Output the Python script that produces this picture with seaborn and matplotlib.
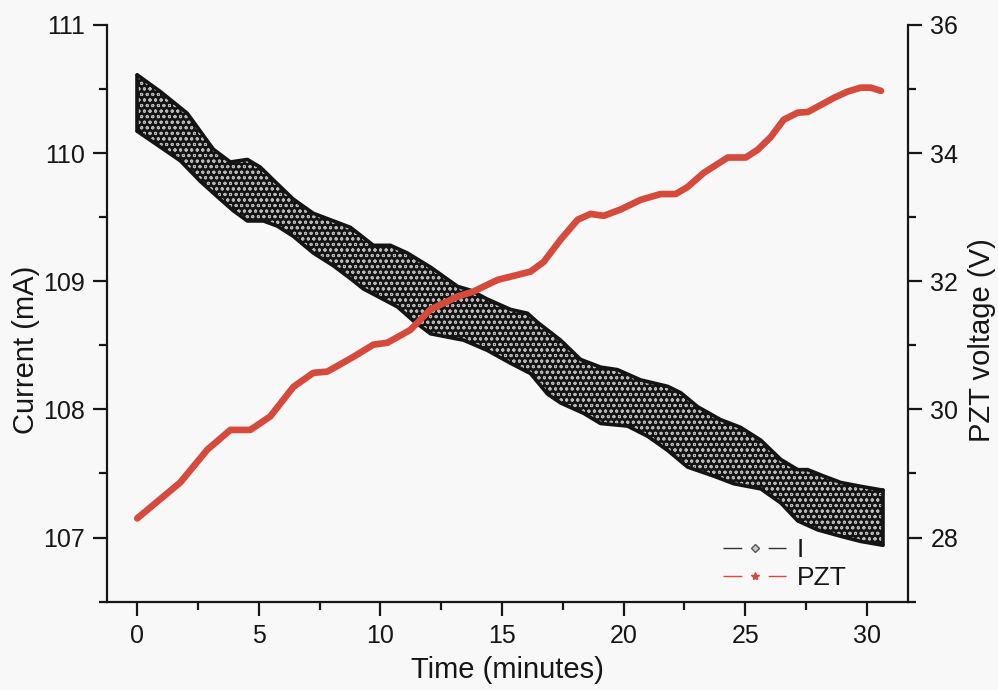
import numpy as np
import pandas as pd
import seaborn as sns
import matplotlib.pyplot as plt
from matplotlib.lines import Line2D

# Current band: upper and lower envelope of the sampled current trace
t_upper = [0.00, 0.95, 2.06, 3.13, 3.83, 4.53, 5.06, 5.60, 6.42, 7.24, 8.77, 9.71,
           10.41, 11.11, 12.06, 13.17, 13.70, 14.40, 15.35, 16.05, 16.46, 17.41,
           18.23, 19.05, 19.75, 20.70, 21.81, 22.35, 23.05, 23.99, 24.81, 25.64,
           26.46, 27.16, 27.57, 28.23, 28.93, 29.75, 30.66]
i_upper = [110.61, 110.48, 110.31, 110.03, 109.93, 109.95, 109.89, 109.79, 109.64,
           109.53, 109.42, 109.28, 109.28, 109.22, 109.11, 108.96, 108.93, 108.86,
           108.78, 108.75, 108.68, 108.54, 108.39, 108.33, 108.31, 108.23, 108.18,
           108.13, 108.02, 107.92, 107.86, 107.76, 107.61, 107.53, 107.53, 107.48,
           107.43, 107.40, 107.37]
t_lower = [0.00, 1.77, 2.59, 3.29, 3.95, 4.53, 5.19, 5.76, 6.42, 7.24, 8.07, 8.77,
           9.30, 10.70, 11.36, 12.06, 13.42, 14.40, 15.35, 16.17, 16.87, 17.41,
           18.35, 19.05, 20.16, 20.99, 21.81, 22.63, 23.70, 24.53, 25.64, 26.46,
           27.16, 27.98, 28.93, 29.75, 30.66]
i_lower = [110.17, 109.94, 109.78, 109.66, 109.55, 109.47, 109.47, 109.43, 109.35,
           109.22, 109.12, 109.02, 108.94, 108.80, 108.69, 108.59, 108.54, 108.46,
           108.36, 108.28, 108.12, 108.05, 107.97, 107.89, 107.87, 107.79, 107.68,
           107.55, 107.48, 107.42, 107.38, 107.27, 107.13, 107.06, 107.01, 106.97,
           106.94]

# PZT drive voltage
t_pzt = [0.00, 1.77, 2.88, 3.83, 4.65, 5.47, 6.42, 7.24, 7.82, 8.89, 9.71, 10.29,
         11.23, 12.06, 13.17, 13.83, 14.81, 16.17, 16.71, 17.41, 18.11, 18.64,
         19.18, 19.88, 20.70, 21.52, 22.14, 22.63, 23.29, 24.28, 25.02, 25.51,
         26.05, 26.58, 27.16, 27.57, 28.11, 28.64, 29.22, 29.75, 30.16, 30.58]
v_pzt = [28.30, 28.86, 29.37, 29.68, 29.68, 29.89, 30.35, 30.57, 30.59, 30.82,
         31.01, 31.04, 31.24, 31.56, 31.76, 31.84, 32.02, 32.15, 32.30, 32.65,
         32.96, 33.05, 33.02, 33.12, 33.27, 33.36, 33.36, 33.47, 33.69, 33.93,
         33.93, 34.05, 34.25, 34.52, 34.63, 34.64, 34.75, 34.86, 34.96, 35.02,
         35.02, 34.97]

x_ticks = [0, 5, 10, 15, 20, 25, 30]
left_ticks = [107, 108, 109, 110, 111]
right_ticks = [28, 30, 32, 34, 36]

bg = "#f8f8f8"
ink = "#161616"
band_dark = "#141414"
dot_light = "#b8b8b8"
red = "#d64a3b"

sns.set_theme(style="ticks")
plt.rcParams['font.family'] = ['Liberation Sans', 'DejaVu Sans']
plt.rcParams['hatch.linewidth'] = 0.7
plt.rcParams['lines.scale_dashes'] = False

fig = plt.figure(figsize=(9.98, 6.90), dpi=100, facecolor=bg)
ax = fig.add_axes([0.107, 0.128, 0.803, 0.836], facecolor=bg)
ax2 = ax.twinx()

# dotted band of the current trace
poly_t = np.r_[t_upper, t_lower[::-1]]
poly_i = np.r_[i_upper, i_lower[::-1]]
ax.fill(poly_t, poly_i, facecolor=band_dark, edgecolor=dot_light,
        hatch="ooo", linewidth=0, zorder=2)
up = pd.DataFrame({"t": t_upper, "I": i_upper})
lo = pd.DataFrame({"t": t_lower, "I": i_lower})
sns.lineplot(data=up, x="t", y="I", ax=ax, color=band_dark, linewidth=2.6, zorder=3)
sns.lineplot(data=lo, x="t", y="I", ax=ax, color=band_dark, linewidth=2.6, zorder=3)
ax.plot([t_upper[0], t_lower[0]], [i_upper[0], i_lower[0]], color=band_dark, lw=2.6, zorder=3)
ax.plot([t_upper[-1], t_lower[-1]], [i_upper[-1], i_lower[-1]], color=band_dark, lw=2.6, zorder=3)

pzt = pd.DataFrame({"t": t_pzt, "V": v_pzt})
sns.lineplot(data=pzt, x="t", y="V", ax=ax2, color=red, linewidth=4.8,
             solid_capstyle="round", solid_joinstyle="round")

ax.set_xlim(-1.25, 31.7)
ax.set_ylim(106.5, 111)
ax2.set_ylim(27, 36)

ax.set_xticks(x_ticks)
ax.set_xticks(np.arange(0, 31, 2.5), minor=True)
ax.set_yticks(left_ticks)
ax.set_yticks(np.arange(106.5, 111.01, 0.5), minor=True)
ax2.set_yticks(right_ticks)
ax2.set_yticks(np.arange(27, 36.01, 1), minor=True)

ax.set_xlabel("Time (minutes)", fontsize=21, labelpad=6, color=ink)
ax.set_ylabel("Current (mA)", fontsize=21, color=ink)
ax2.set_ylabel("PZT voltage (V)", fontsize=21, color=ink)
ax.yaxis.set_label_coords(-0.083, 0.437)
ax2.yaxis.set_label_coords(1.075, 0.454)

for a in (ax, ax2):
    a.spines["top"].set_visible(False)
    for s in ("left", "right", "bottom"):
        a.spines[s].set_linewidth(1.6)
        a.spines[s].set_color(ink)
    a.tick_params(which="major", direction="out", length=10, width=1.6,
                  labelsize=18, colors=ink, pad=6)
    a.tick_params(which="minor", direction="out", length=6, width=1.6,
                  colors=ink)
ax2.spines["left"].set_visible(False)
ax2.spines["bottom"].set_visible(False)
ax.spines["right"].set_visible(False)
ax.grid(False)
ax2.grid(False)

# legend handles: short line pieces with a gap around the symbol
handles = [
    Line2D([], [], color="#333333", lw=1.0, dashes=(13.5, 19, 13.5, 0),
           marker="D", markersize=4, markerfacecolor="#c8c8c8",
           markeredgecolor="#555555", markeredgewidth=1.0),
    Line2D([], [], color=red, lw=1.0, dashes=(13.5, 19, 13.5, 0),
           marker="*", markersize=6, markerfacecolor=red, markeredgecolor=red),
]
ax2.legend(handles, ["I", "PZT"], loc="lower left", bbox_to_anchor=(0.752, -0.003),
           frameon=False, fontsize=19, handlelength=2.42, handletextpad=0.38,
           labelspacing=0.15, borderpad=0.0, labelcolor=ink)

fig.savefig("out.png", dpi=100, facecolor=bg)
